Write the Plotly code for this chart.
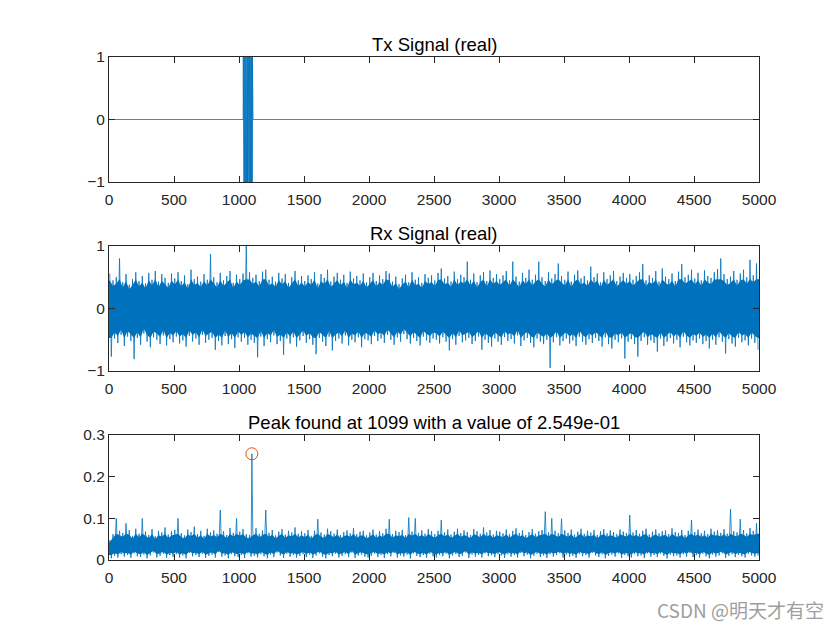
import numpy as np
import plotly.graph_objects as go

# ---------------- data ----------------
N_SAMPLES = 5000
BIN = 25  # samples per envelope bin (200 bins)

tx_burst_start = 1033
tx_burst = [1, -1, 1, 1, -1, -1, 1, -1, 0.7, -1, 1, -1, -0.8, 1, 1, -1, 1, -1,
            -1, 1, -0.9, 1, -1, 1, 1, -1, 0.6, -1, 1, -1, -1, 1, -1, 1, 0.8, -1,
            1, -1, 1, -1, -1, 1, -0.7, 1, -1, 1, -1, 1, 1, -1, 1, -1, -1, 1,
            -1, 0.9, -1, 1, -1, 1, -1, -1, 1, -1, 1, -1, 1, -0.6, 1, -1, 1, -1]

rx_hi = [56, 45, 50, 80, 42, 55, 38, 47, 58, 44, 52, 40, 57, 46, 60, 43, 55, 49, 41, 56,
         48, 58, 44, 53, 39, 62, 47, 51, 43, 55, 46, 87, 50, 42, 57, 45, 52, 60, 41, 54,
         47, 56, 100, 58, 49, 54, 44, 59, 62, 46, 51, 43, 57, 48, 55, 41, 50, 60, 45, 52,
         44, 53, 47, 58, 40, 55, 49, 62, 43, 51, 57, 46, 54, 41, 59, 48, 52, 45, 56, 42,
         50, 57, 44, 53, 47, 60, 56, 43, 51, 39, 48, 54, 42, 58, 46, 50, 41, 55, 49, 53,
         45, 57, 64, 48, 52, 43, 59, 47, 54, 50, 75, 46, 56, 42, 53, 58, 44, 61, 49, 55,
         47, 53, 60, 45, 75, 51, 43, 57, 49, 62, 46, 54, 75, 50, 44, 58, 48, 55, 72, 52,
         46, 59, 43, 54, 61, 48, 52, 45, 67, 50, 56, 42, 58, 47, 53, 60, 44, 51, 57, 49,
         55, 46, 52, 58, 71, 45, 53, 49, 60, 43, 64, 51, 47, 56, 44, 59, 71, 50, 54, 62,
         48, 57, 45, 61, 52, 49, 58, 63, 80, 55, 47, 51, 60, 46, 56, 62, 50, 78, 53, 72]
rx_lo = [-77, -48, -55, -42, -60, -45, -52, -81, -47, -58, -40, -53, -62, -46, -50, -57, -43, -59, -49, -54,
         -45, -56, -51, -61, -44, -53, -48, -58, -42, -55, -50, -47, -66, -52, -59, -44, -57, -49, -63, -46,
         -53, -47, -58, -50, -55, -78, -45, -60, -49, -54, -43, -57, -52, -74, -48, -56, -46, -61, -51, -44,
         -55, -49, -58, -73, -47, -53, -60, -45, -67, -52, -48, -56, -43, -59, -50, -54, -46, -62, -49, -51,
         -57, -44, -52, -48, -55, -42, -50, -58, -46, -53, -41, -49, -56, -47, -52, -59, -45, -51, -55, -48,
         -50, -56, -46, -53, -67, -49, -58, -44, -54, -51, -47, -57, -52, -45, -66, -50, -55, -61, -48, -53,
         -58, -46, -52, -49, -56, -43, -60, -51, -47, -55, -62, -48, -53, -57, -50, -95, -54, -46, -59, -52,
         -48, -56, -51, -60, -45, -53, -58, -49, -55, -47, -52, -61, -46, -57, -64, -50, -54, -48, -80, -53,
         -49, -57, -77, -52, -46, -58, -51, -55, -69, -48, -60, -53, -47, -56, -50, -62, -45, -54, -59, -51,
         -55, -48, -57, -52, -64, -50, -58, -46, -53, -72, -49, -56, -61, -47, -54, -51, -59, -48, -55, -66]

corr_hi = [48, 62, 100, 70, 65, 88, 72, 58, 75, 63, 100, 68, 60, 74, 57, 70, 66, 78, 61, 69,
           72, 100, 64, 59, 73, 67, 80, 62, 70, 58, 75, 66, 71, 63, 120, 69, 60, 77, 65, 100,
           68, 74, 62, 60, 70, 76, 63, 71, 120, 65, 72, 59, 68, 74, 61, 70, 66, 78, 63, 69,
           64, 72, 58, 70, 98, 66, 61, 75, 69, 63, 73, 60, 67, 71, 64, 76, 62, 68, 70, 59,
           66, 73, 61, 69, 64, 75, 98, 62, 70, 67, 72, 60, 102, 68, 100, 65, 71, 63, 74, 69,
           62, 70, 96, 66, 73, 61, 68, 75, 64, 71, 67, 60, 74, 69, 63, 78, 66, 72, 61, 70,
           68, 64, 73, 62, 70, 76, 65, 71, 60, 67, 74, 63, 69, 72, 116, 66, 100, 70, 64, 99,
           71, 65, 73, 61, 68, 75, 63, 70, 66, 72, 60, 69, 74, 64, 71, 67, 62, 73, 68, 65,
           108, 66, 72, 63, 70, 75, 61, 68, 73, 64, 69, 71, 62, 76, 67, 65, 72, 60, 70, 96,
           67, 73, 64, 70, 62, 75, 68, 71, 65, 74, 63, 122, 69, 66, 98, 72, 64, 77, 70, 88]
corr_lo = [4, 10, 6, 14, 8, 12, 5, 16, 9, 7, 13, 4, 11, 18, 6, 10, 15, 5, 12, 8,
           14, 6, 11, 4, 17, 9, 12, 7, 15, 5, 10, 13, 6, 19, 8, 11, 4, 14, 9, 7,
           12, 5, 16, 8, 10, 6, 14, 9, 4, 13, 7, 18, 11, 5, 15, 8, 12, 6, 10, 14,
           7, 13, 5, 11, 16, 8, 4, 12, 9, 15, 6, 10, 14, 7, 18, 5, 11, 13, 8, 6,
           10, 15, 7, 12, 5, 14, 9, 17, 6, 11, 8, 13, 4, 16, 10, 7, 12, 5, 15, 9,
           6, 12, 9, 15, 4, 11, 14, 7, 10, 18, 5, 13, 8, 12, 6, 16, 9, 11, 7, 14,
           11, 5, 14, 8, 12, 6, 17, 9, 13, 4, 10, 15, 7, 11, 5, 14, 8, 12, 16, 6,
           13, 8, 10, 5, 15, 9, 12, 6, 17, 11, 7, 14, 4, 10, 13, 8, 16, 5, 12, 9,
           6, 14, 9, 11, 5, 16, 8, 12, 7, 15, 10, 4, 13, 9, 11, 6, 14, 8, 17, 7,
           12, 6, 15, 9, 4, 13, 8, 11, 16, 5, 10, 14, 7, 12, 9, 6, 15, 11, 8, 10]

peak_index = 1099
peak_value = 0.2549

titles = ["Tx Signal (real)", "Rx Signal (real)",
          "Peak found at 1099 with a value of 2.549e-01"]
x_ticks = list(range(0, 5001, 500))
y_ticks_1 = [-1, 0, 1]
y_ticks_2 = [-1, 0, 1]
y_ticks_3 = [0, 0.1, 0.2, 0.3]
y_tick_text_3 = ["0", "0.1", "0.2", "0.3"]
watermark = "CSDN @明天才有空"

# ---------------- build traces ----------------
BLUE = "#0072BD"
ORANGE = "#D95319"
AX = "#262626"
FONT = "Arial, Liberation Sans, sans-serif"

tx = np.zeros(N_SAMPLES + 1)
tx[tx_burst_start:tx_burst_start + len(tx_burst)] = tx_burst
tx_x = np.arange(N_SAMPLES + 1)

HI_OFF, LO_OFF = 6, 18


def zigzag(hi, lo, scale, insert=None):
    xs, ys = [], []
    for i, (h, l) in enumerate(zip(hi, lo)):
        pts = [(BIN * i + HI_OFF, h * scale), (BIN * i + LO_OFF, l * scale)]
        if insert is not None and BIN * i + HI_OFF > insert[0] and (not xs or xs[-1] < insert[0]):
            xs.append(insert[0])
            ys.append(insert[1])
        for px, py in pts:
            xs.append(px)
            ys.append(py)
    return xs, ys


def dense_body(hi, lo, scale, centre, frac, cap):
    """Polygon for the visually solid part of a noise band: the per-bin
    envelope pulled toward the band centre (thin excursions stay as lines)."""
    top = [min(centre + frac * (h * scale - centre), centre + cap) for h in hi]
    bot = [max(centre + frac * (l * scale - centre), centre - cap) for l in lo]
    xt = [BIN * i + HI_OFF for i in range(len(hi))]
    xb = [BIN * i + LO_OFF for i in range(len(lo))]
    xt = [0] + xt + [N_SAMPLES]
    top = [top[0]] + top + [top[-1]]
    xb = [0] + xb + [N_SAMPLES]
    bot = [bot[0]] + bot + [bot[-1]]
    return xt + xb[::-1], top + bot[::-1]


rx_x, rx_y = zigzag(rx_hi, rx_lo, 0.01)
c_x, c_y = zigzag(corr_hi, corr_lo, 0.001, insert=(peak_index, peak_value))
rbx, rby = dense_body(rx_hi, rx_lo, 0.01, 0.0, 0.8, 0.47)
cbx, cby = dense_body(corr_hi, corr_lo, 0.001, 0.032, 0.72, 0.031)

LW = 0.8
fig = go.Figure()
fig.add_trace(go.Scatter(x=tx_x, y=tx, mode="lines", line=dict(color=BLUE, width=LW),
                         xaxis="x", yaxis="y", showlegend=False, hoverinfo="skip"))
fig.add_trace(go.Scatter(x=rbx, y=rby, mode="lines", fill="toself", fillcolor=BLUE,
                         line=dict(width=0, color=BLUE),
                         xaxis="x2", yaxis="y2", showlegend=False, hoverinfo="skip"))
fig.add_trace(go.Scatter(x=rx_x, y=rx_y, mode="lines", line=dict(color=BLUE, width=LW),
                         xaxis="x2", yaxis="y2", showlegend=False, hoverinfo="skip"))
fig.add_trace(go.Scatter(x=cbx, y=cby, mode="lines", fill="toself", fillcolor=BLUE,
                         line=dict(width=0, color=BLUE),
                         xaxis="x3", yaxis="y3", showlegend=False, hoverinfo="skip"))
fig.add_trace(go.Scatter(x=c_x, y=c_y, mode="lines", line=dict(color=BLUE, width=LW),
                         xaxis="x3", yaxis="y3", showlegend=False, hoverinfo="skip"))
fig.add_trace(go.Scatter(x=[peak_index], y=[peak_value], mode="markers",
                         marker=dict(symbol="circle-open", size=12, color=ORANGE,
                                     line=dict(color=ORANGE, width=1)),
                         xaxis="x3", yaxis="y3", showlegend=False, hoverinfo="skip"))

W, H = 840, 630
x_dom = [109 / W, 759 / W]
y_doms = [[(H - 182) / H, (H - 57) / H],
          [(H - 371) / H, (H - 246) / H],
          [(H - 560) / H, (H - 435) / H]]

common_x = dict(range=[0, N_SAMPLES], tickvals=x_ticks, ticks="inside", ticklen=6,
                tickcolor=AX, showline=True, linecolor=AX, linewidth=1, mirror="ticks",
                showgrid=False, zeroline=False, domain=x_dom, ticklabelstandoff=3,
                tickfont=dict(family=FONT, size=15.5, color=AX))
common_y = dict(ticks="inside", ticklen=6, tickcolor=AX, showline=True, linecolor=AX,
                linewidth=1, mirror="ticks", showgrid=False, zeroline=False,
                tickfont=dict(family=FONT, size=15.5, color=AX))

layout = dict(width=W, height=H, margin=dict(l=0, r=0, t=0, b=0, autoexpand=False),
              paper_bgcolor="white", plot_bgcolor="white", showlegend=False)
layout["xaxis"] = dict(common_x, anchor="y")
layout["xaxis2"] = dict(common_x, anchor="y2")
layout["xaxis3"] = dict(common_x, anchor="y3")
layout["yaxis"] = dict(common_y, anchor="x", domain=y_doms[0], range=[-1, 1], tickvals=y_ticks_1)
layout["yaxis2"] = dict(common_y, anchor="x2", domain=y_doms[1], range=[-1, 1], tickvals=y_ticks_2)
layout["yaxis3"] = dict(common_y, anchor="x3", domain=y_doms[2], range=[0, 0.3],
                        tickvals=y_ticks_3, ticktext=y_tick_text_3)

annotations = []
for t, d in zip(titles, y_doms):
    annotations.append(dict(text=t, x=(x_dom[0] + x_dom[1]) / 2, y=d[1], xref="paper",
                            yref="paper", xanchor="center", yanchor="bottom", yshift=0,
                            showarrow=False, font=dict(family=FONT, size=18.5, color="#000000")))
annotations.append(dict(text=watermark, x=826 / W, y=(H - 609) / H, xref="paper", yref="paper",
                        xanchor="right", yanchor="middle", showarrow=False,
                        font=dict(family="Noto Sans CJK SC, Arial, sans-serif", size=19,
                                  color="#9e9e9e")))
layout["annotations"] = annotations

fig.update_layout(layout)
fig.write_html("out.html")
